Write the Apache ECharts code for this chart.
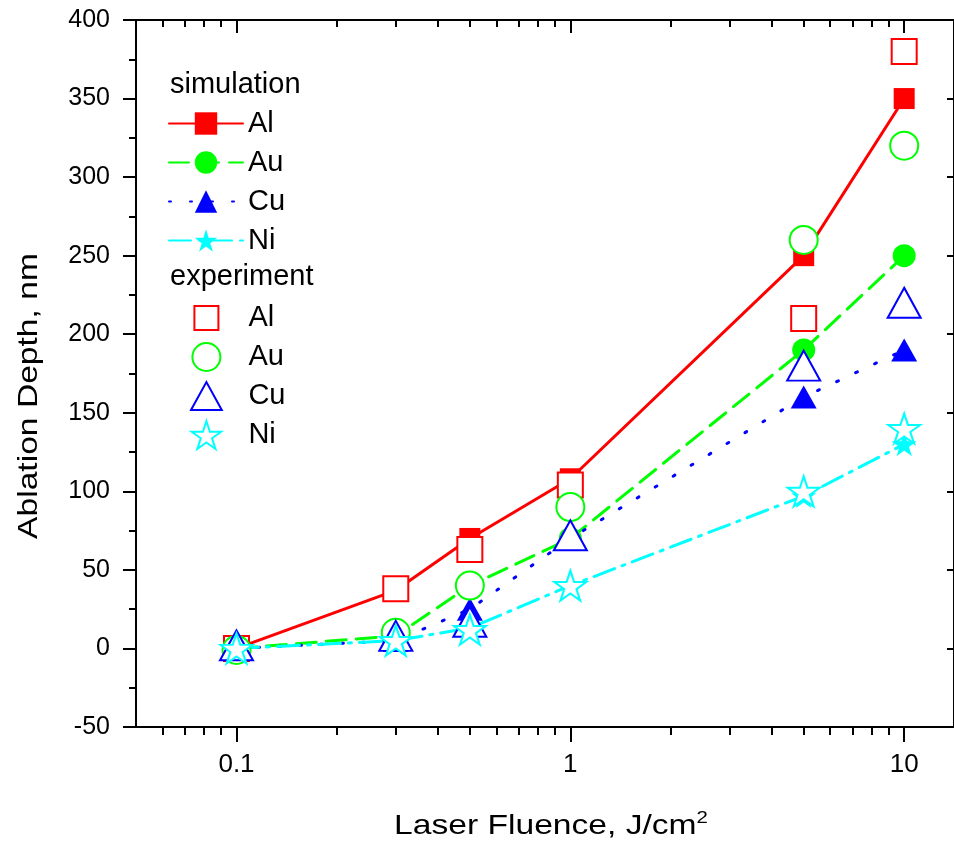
<!DOCTYPE html>
<html>
<head>
    <meta charset="utf-8">
    <script src="https://cdn.jsdelivr.net/npm/echarts@6/dist/echarts.min.js"></script>
    <style>
        html, body { margin: 0; padding: 0; background: #fff; }
    </style>
</head>
<body>
    <div id="main" style="width: 954px;height:842px;"></div>
</body>
</html>

<script type="text/javascript">

// fluence values, J/cm2
var fluence = [0.1, 0.3, 0.5, 1, 5, 10];

// simulation, nm
var simAl = [0, 37, 70, 108, 250, 350];
var simAu = [0, 8, 40, 70, 190, 250];
var simCu = [0, 5, 25, 70, 160, 190];
var simNi = [0, 5, 13, 40, 97, 130];

// experiment, nm
var expAl = [0, 38, 63, 104, 210, 380];
var expAu = [-1, 10, 40, 90, 260, 320];
var expCu = [2, 8, 17, 72, 180, 220];
var expNi = [0, 5, 12, 40, 100, 140];

// tick values of the log axis
var xMajorTicks = [0.1, 1, 10];
var xMinorTicks = [0.06, 0.07, 0.08, 0.09,
    0.2, 0.3, 0.4, 0.5, 0.6, 0.7, 0.8, 0.9,
    2, 3, 4, 5, 6, 7, 8, 9];

var FONT = '"Liberation Sans", Arial, sans-serif';
var STAR = 'path://M50 0 L61.23 34.55 L97.55 34.55 L68.17 55.9 L79.39 90.45 L50 69.1 L20.61 90.45 L31.83 55.9 L2.45 34.55 L38.77 34.55 Z';
// legend icons (the extra moves only pad the box)
var SQUARE_ICON = 'path://M0 0M28 28M2 2H26V26H2Z';
var TRI_ICON = 'path://M0 30L16.5 0L33 30Z';

function pairs(ys) {
    return fluence.map(function (x, i) { return [x, ys[i]]; });
}

var myChart = echarts.init(document.getElementById('main'));

var gridBox = { left: 136, right: -2, top: 20, bottom: 115 };
var axisLine = { show: true, onZero: false, lineStyle: { color: '#000', width: 2 } };
var tickStyle = { color: '#000', width: 2 };

function simSeries(name, color, ys, symbol, size, dash) {
    return {
        name: name + ' (sim)',
        type: 'line',
        z: 2,
        data: pairs(ys),
        symbol: symbol,
        symbolSize: size,
        showSymbol: true,
        itemStyle: { color: color },
        lineStyle: { color: color, width: 3, type: dash, cap: 'round' },
        emphasis: { disabled: true }
    };
}

function expSeries(name, color, ys, symbol, size) {
    return {
        name: name + ' (exp)',
        type: 'scatter',
        z: 5,
        data: pairs(ys),
        symbol: symbol,
        symbolSize: size,
        itemStyle: { color: '#fff', borderColor: color, borderWidth: 2, opacity: 1 },
        emphasis: { disabled: true }
    };
}

option = {
    animation: false,
    backgroundColor: '#fff',
    textStyle: { fontFamily: FONT },
    grid: [
        Object.assign({}, gridBox),
        Object.assign({}, gridBox)
    ],
    xAxis: [
        {
            type: 'log', logBase: 10, gridIndex: 0, position: 'bottom',
            min: 0.05, max: 14.1,
            axisLine: axisLine,
            axisTick: { show: true, customValues: xMajorTicks, length: 15, inside: false, lineStyle: tickStyle },
            axisLabel: {
                customValues: xMajorTicks, color: '#000', fontSize: 26, margin: 25, fontFamily: FONT,
                formatter: function (v) { return String(v); }
            },
            splitLine: { show: false }
        },
        {
            type: 'log', logBase: 10, gridIndex: 0, position: 'top',
            min: 0.05, max: 14.1,
            axisLine: axisLine,
            axisTick: { show: true, customValues: xMajorTicks, length: 13, inside: true, lineStyle: tickStyle },
            axisLabel: { show: false },
            splitLine: { show: false }
        },
        {
            type: 'log', logBase: 10, gridIndex: 1, position: 'bottom',
            min: 0.05, max: 14.1,
            axisLine: { show: false, onZero: false },
            axisTick: { show: true, customValues: xMinorTicks, length: 8, inside: false, lineStyle: tickStyle },
            axisLabel: { show: false },
            splitLine: { show: false }
        },
        {
            type: 'log', logBase: 10, gridIndex: 1, position: 'top',
            min: 0.05, max: 14.1,
            axisLine: { show: false, onZero: false },
            axisTick: { show: true, customValues: xMinorTicks, length: 7, inside: true, lineStyle: tickStyle },
            axisLabel: { show: false },
            splitLine: { show: false }
        }
    ],
    yAxis: [
        {
            type: 'value', gridIndex: 0, position: 'left',
            min: -50, max: 400, interval: 50,
            axisLine: axisLine,
            axisTick: { show: true, length: 13, inside: false, lineStyle: tickStyle },
            minorTick: { show: true, splitNumber: 2, length: 7, lineStyle: tickStyle },
            axisLabel: { color: '#000', fontSize: 25, margin: 26, fontFamily: FONT },
            splitLine: { show: false }
        },
        {
            type: 'value', gridIndex: 0, position: 'right',
            min: -50, max: 400, interval: 50,
            axisLine: axisLine,
            axisTick: { show: true, length: 7, inside: true, lineStyle: tickStyle },
            axisLabel: { show: false },
            splitLine: { show: false }
        },
        {
            type: 'value', gridIndex: 1, show: false,
            axisLine: { onZero: false },
            min: -50, max: 400
        }
    ],
    legend: [
        {
            data: ['Al (sim)', 'Au (sim)', 'Cu (sim)', 'Ni (sim)'],
            orient: 'vertical', left: 168, top: 109, padding: 0,
            itemWidth: 74, itemHeight: 28, itemGap: 10,
            selectedMode: false,
            textStyle: { color: '#000', fontSize: 29, fontFamily: FONT },
            formatter: function (n) { return n.split(' ')[0]; }
        },
        {
            data: [
                { name: 'Al (exp)', icon: SQUARE_ICON },
                { name: 'Au (exp)' },
                { name: 'Cu (exp)', icon: TRI_ICON },
                { name: 'Ni (exp)' }
            ],
            orient: 'vertical', left: 190, top: 303, padding: 0,
            itemWidth: 74, itemHeight: 28, itemGap: 9,
            symbolKeepAspect: true,
            selectedMode: false,
            textStyle: { color: '#000', fontSize: 29, fontFamily: FONT },
            formatter: function (n) { return n.split(' ')[0]; }
        }
    ],
    graphic: [
        {
            type: 'text', x: 170, y: 85,
            style: { text: 'simulation', font: '29px ' + FONT, fill: '#000', textVerticalAlign: 'middle', verticalAlign: 'middle' }
        },
        {
            type: 'text', x: 170, y: 277,
            style: { text: 'experiment', font: '29px ' + FONT, fill: '#000', textVerticalAlign: 'middle', verticalAlign: 'middle' }
        },
        {
            type: 'text', x: 29, y: 396, rotation: Math.PI / 2, scaleX: 1.2,
            style: {
                text: 'Ablation Depth, nm', font: '28px ' + FONT, fill: '#000',
                textAlign: 'center', align: 'center', textVerticalAlign: 'middle', verticalAlign: 'middle'
            }
        },
        {
            type: 'text', x: 551, y: 826, scaleX: 1.2,
            style: {
                text: 'Laser Fluence, J/cm{sup|2}', font: '28px ' + FONT, fill: '#000',
                textAlign: 'center', align: 'center', textVerticalAlign: 'middle', verticalAlign: 'middle',
                rich: { sup: { fontSize: 17, fontFamily: FONT, fill: '#000', verticalAlign: 'top', lineHeight: 32 } }
            }
        }
    ],
    series: [
        simSeries('Al', '#ff0000', simAl, 'rect', 21, 'solid'),
        simSeries('Au', '#00ff00', simAu, 'circle', 23, [20, 10]),
        simSeries('Cu', '#0000ff', simCu, 'triangle', [26, 23], [2, 19]),
        simSeries('Ni', '#00ffff', simNi, STAR, [25, 24], [22, 8, 3, 8]),
        expSeries('Al', '#ff0000', expAl, 'rect', 25),
        expSeries('Au', '#00ff00', expAu, 'circle', 28),
        expSeries('Cu', '#0000ff', expCu, 'triangle', [33, 30]),
        expSeries('Ni', '#00ffff', expNi, STAR, [32, 30])
    ]
};

myChart.setOption(option);

</script>
